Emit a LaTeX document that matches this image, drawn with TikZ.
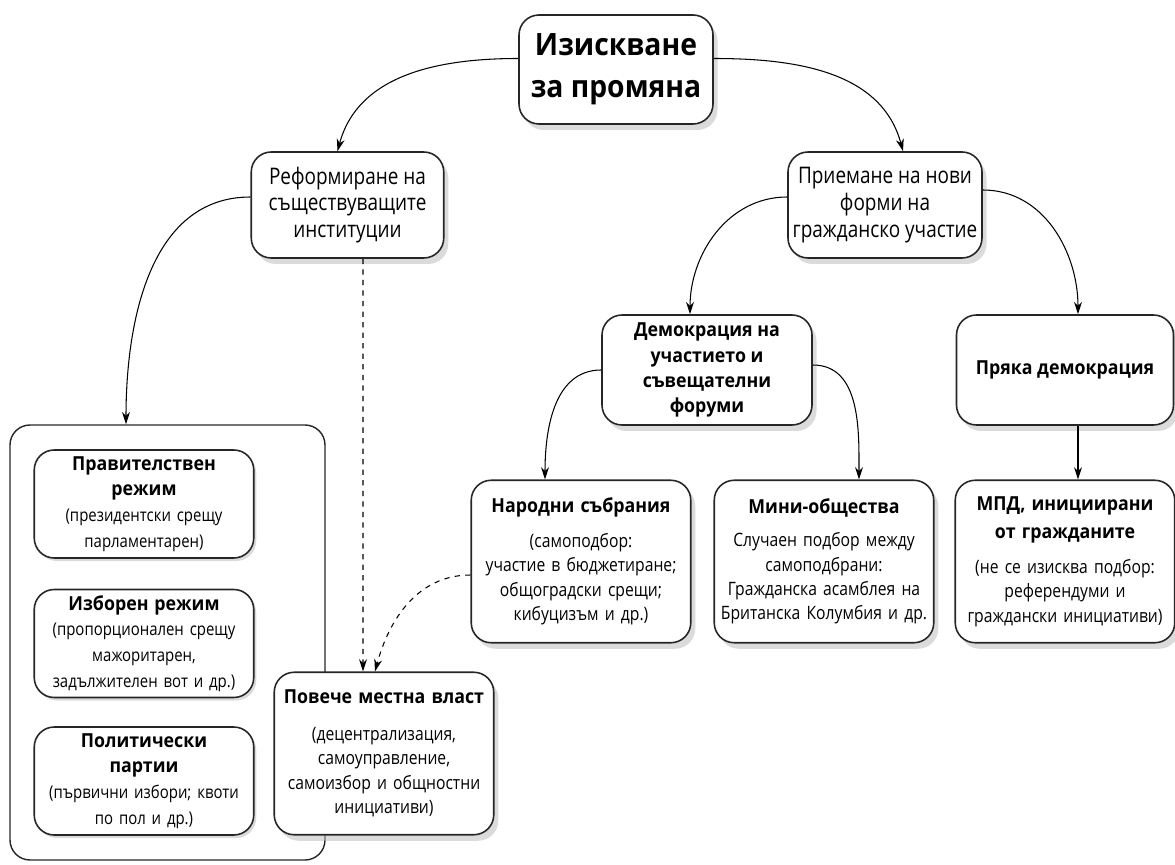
\documentclass[tikz,border=0pt]{standalone}
\usepackage{fontspec}
\setmainfont{Open Sans}[FakeStretch=0.92]
\newfontfamily\condfont{Open Sans}[FakeStretch=0.83]
\newfontfamily\bodyfont{Open Sans}[FakeStretch=0.85]
\usetikzlibrary{arrows.meta,shadows}
\newcommand*\heading[1]{{\normalfont\bfseries\fontsize{11}{14.3}\selectfont #1}}

\begin{document}
\begin{tikzpicture}[>={Stealth[length=7pt,width=4.5pt]},line width=0.6pt,
    roundbox/.style={shape=rectangle,rounded corners=0.4cm,draw=black!85,line width=0.9pt,fill=white,align=center,inner sep=2pt},
    shadowbox/.style={roundbox,drop shadow={shadow xshift=0.09cm,shadow yshift=-0.12cm,fill=black!28}},
    topbox/.style={shadowbox,minimum width=3.88cm,minimum height=2.18cm,font=\bfseries\fontsize{17.5}{23.8}\selectfont},
    midbox/.style={shadowbox,minimum width=3.85cm,minimum height=2.12cm,font=\condfont\fontsize{13}{15.3}\selectfont},
    formbox/.style={shadowbox,minimum height=2.2cm,font=\bfseries\fontsize{11}{14.3}\selectfont},
    leafbox/.style={shadowbox,minimum width=4.36cm,minimum height=3.25cm,text width=4.25cm,font=\bodyfont\fontsize{10.5}{13.9}\selectfont},
    instbox/.style={roundbox,drop shadow={shadow xshift=0.05cm,shadow yshift=-0.06cm,fill=black!28},minimum width=4.36cm,minimum height=2.16cm,text width=4.25cm,font=\bodyfont\fontsize{10}{14.6}\selectfont},
    groupbox/.style={shape=rectangle,rounded corners=0.4cm,draw=black!85,line width=0.8pt,minimum width=6.3cm,minimum height=8.7cm}]
    \useasboundingbox (0,0) rectangle (23.5,-17.3);

    \node (demand) [topbox] at (12.32,-1.39) {Изискване\\за промяна};

    \node (reform) [midbox, node distance=2.71cm, below of=demand, xshift=-5.37cm] {Реформиране на\\съществуващите\\институции};
    \node (adopt) [midbox, minimum width=3.88cm, node distance=10.75cm, right of=reform] {Приемане на нови\\форми на\\гражданско участие};

    \node (deliber) [formbox, minimum width=4.2cm, node distance=3.3cm, below of=adopt, xshift=-3.56cm] {Демокрация на\\участието и\\съвещателни\\форуми};
    \node (direct) [formbox, minimum width=4.34cm, node distance=7.16cm, right of=deliber] {Пряка демокрация};

    \node (assembly) [leafbox, node distance=3.83cm, below of=deliber, xshift=-2.52cm] {\heading{Народни събрания}\\[6pt]
        (самоподбор:\\участие в бюджетиране;\\общоградски срещи;\\кибуцизъм и др.)};
    \node (minipub) [leafbox, node distance=4.86cm, right of=assembly] {\heading{Мини-общества}\\[5pt]
        Случаен подбор между\\самоподбрани:\\Гражданска асамблея на\\Британска Колумбия и др.};
    \node (citizen) [leafbox, minimum width=4.34cm, node distance=4.82cm, right of=minipub] {\heading{МПД, инициирани}\\[2pt]\heading{от гражданите}\\[6pt]
        (не се изисква подбор:\\референдуми и\\граждански инициативи)};

    % existing institutions
    \node (inst) [groupbox, node distance=8.75cm, below of=reform, xshift=-3.6cm] {};
    \node (govt) [instbox, node distance=2.77cm, above of=inst, xshift=-0.47cm] {\heading{Правителствен}\\\heading{режим}\\
        (президентски срещу\\парламентарен)};
    \node (elect) [instbox, node distance=2.79cm, below of=govt] {\heading{Изборен режим}\\
        (пропорционален срещу\\мажоритарен,\\задължителен вот и др.)};
    \node (party) [instbox, node distance=2.75cm, below of=elect] {\heading{Политически}\\\heading{партии}\\
        (първични избори; квоти\\по пол и др.)};
    \node (local) [leafbox, node distance=4.8cm, right of=party, yshift=0.55cm] {\heading{Повече местна власт}\\[7pt]
        (децентрализация,\\самоуправление,\\самоизбор и общностни\\инициативи)};

    \path[->] ([yshift=0.22cm]demand.west) edge [out=180, in=75] ([xshift=-0.2cm]reform.north);
    \path[->] ([yshift=0.22cm]demand.east) edge [out=0, in=105] ([xshift=0.36cm]adopt.north);
    \path[->] ([yshift=0.16cm]reform.west) edge [out=180, in=90] ([xshift=-0.83cm]inst.north);
    \path[->] ([yshift=0.16cm]adopt.west) edge [out=180, in=90] ([xshift=-0.34cm]deliber.north);
    \path[->] ([yshift=0.3cm]adopt.east) edge [out=0, in=90] ([xshift=0.26cm]direct.north);
    \path[->] (deliber.west) edge [out=180, in=90] ([xshift=-0.72cm]assembly.north);
    \path[->] ([yshift=0.1cm]deliber.east) edge [out=0, in=90] ([xshift=0.7cm]minipub.north);
    \path[->] ([xshift=0.26cm]direct.south) edge ([xshift=0.26cm]citizen.north);
    \path[->,dashed] ([xshift=0.31cm]reform.south) edge ([xshift=-0.42cm]local.north);
    \path[->,dashed] ([yshift=-0.27cm]assembly.west) edge [out=180, in=75] ([xshift=-0.18cm]local.north);
\end{tikzpicture}
\end{document}
